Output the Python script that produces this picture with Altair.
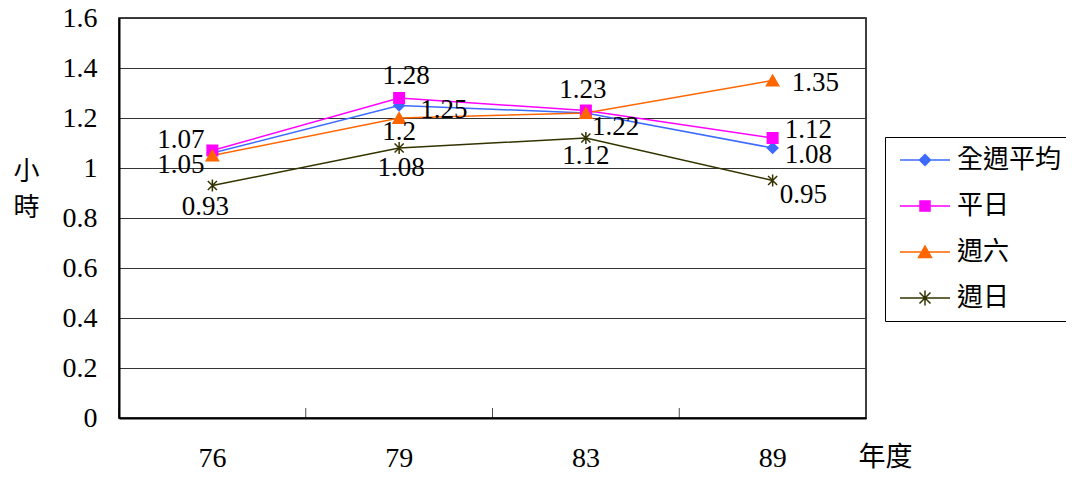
import altair as alt
import pandas as pd

# ---------------- data ----------------
years = ["76", "79", "83", "89"]
series = ["全週平均", "平日", "週六", "週日"]
v_avg = [1.06, 1.25, 1.22, 1.08]
v_weekday = [1.07, 1.28, 1.23, 1.12]
v_sat = [1.05, 1.20, 1.22, 1.35]
v_sun = [0.93, 1.08, 1.12, 0.95]
lab_avg = ["", "1.25", "", "1.08"]
lab_weekday = ["1.07", "1.28", "1.23", "1.12"]
lab_sat = ["1.05", "1.2", "1.22", "1.35"]
lab_sun = ["0.93", "1.08", "1.12", "0.95"]
y_ticks = [0, 0.2, 0.4, 0.6, 0.8, 1.0, 1.2, 1.4, 1.6]

# ---------------- styles ----------------
colors = ["#3d6bff", "#ff00ff", "#ff6600", "#333300"]
ASTER = "M-0.6,-0.6L0.6,0.6M-0.6,0.6L0.6,-0.6M0,-0.8L0,0.8"
plot_shapes = ["diamond", "square", "triangle-up", ASTER]
plot_sizes = [110, 110, 150, 230]
legend_paths = [
    "M-2.5,0H2.5M0,-0.55L0.55,0L0,0.55L-0.55,0Z",
    "M-2.5,0H2.5M-0.5,-0.5H0.5V0.5H-0.5Z",
    "M-2.5,0H2.5M0,-0.6L0.65,0.55L-0.65,0.55Z",
    "M-2.5,0H2.5M-0.55,-0.55L0.55,0.55M-0.55,0.55L0.55,-0.55M0,-0.75L0,0.75",
]
# label placement per series: (align, dx, dy)
label_offsets = [
    [("left", 0, 0), ("left", 21, 4), ("left", 0, 0), ("left", 12, 7)],
    [("right", -8, -11), ("center", 7, -22), ("center", -3, -21), ("left", 12, -8)],
    [("right", -8, 9), ("center", 0, 14), ("left", 6, 14), ("left", 19, 2)],
    [("center", -7, 21), ("center", 2, 20), ("center", 0, 18), ("left", 7, 14)],
]

values = [v_avg, v_weekday, v_sat, v_sun]
labels = [lab_avg, lab_weekday, lab_sat, lab_sun]
rows = []
for si, s in enumerate(series):
    for yi, yr in enumerate(years):
        rows.append({"year": yr, "series": s, "value": values[si][yi],
                     "label": labels[si][yi], "order": si})
df = pd.DataFrame(rows)

SERIF = "Liberation Serif"
CJK = "Noto Sans CJK TC"

xscale = alt.Scale(type="band", paddingInner=0, paddingOuter=0, domain=years)
xaxis = alt.Axis(
    title="年度", titleFont=CJK, titleFontSize=27, titleFontWeight="normal",
    titleColor="#000", titleX=739, titleY=47, titleAlign="left",
    titleBaseline="alphabetic", titleAngle=0,
    labelFont=SERIF, labelFontSize=28, labelColor="#000", labelAngle=0,
    labelBaseline="alphabetic", labelPadding=48, ticks=False, tickSize=0,
    domainColor="#000", domainWidth=2, grid=False,
)
yscale = alt.Scale(domain=[0, 1.6], nice=False, zero=True)
yaxis = alt.Axis(
    title=["小", "時"], titleFont=CJK, titleFontSize=26, titleFontWeight="normal",
    titleColor="#000", titleAngle=0, titleX=-93, titleY=140, titleAlign="center",
    titleBaseline="top", titleLineHeight=36,
    values=y_ticks, format="~g", labelFont=SERIF, labelFontSize=28,
    labelColor="#000", labelPadding=22, ticks=False, tickSize=0,
    domainColor="#000", domainWidth=2, grid=True, gridColor="#333", gridWidth=1,
)

X = alt.X("year:N", scale=xscale, axis=xaxis, sort=years)
Y = alt.Y("value:Q", scale=yscale, axis=yaxis)

legend = alt.Legend(
    title=None, orient="none", legendX=766, legendY=119,
    strokeColor="#000", fillColor="white", padding=10,
    symbolSize=400, symbolOffset=17, labelOffset=19,
    symbolStrokeWidth=1.5, symbolOpacity=1,
    labelFont=CJK, labelFontSize=26, labelColor="#000", rowPadding=20,
)

base = alt.Chart(df)

lines = base.mark_line(strokeWidth=1.5).encode(
    x=X, y=Y,
    color=alt.Color("series:N", scale=alt.Scale(domain=series, range=colors),
                    legend=legend, sort=series),
    order=alt.Order("year:N"),
)

layers = [lines]

# data markers, one layer per series
for si, s in enumerate(series):
    layers.append(
        base.transform_filter(alt.datum.series == s).mark_point(
            filled=True, shape=plot_shapes[si], size=plot_sizes[si],
            fill=colors[si], stroke=colors[si], strokeWidth=1.5, opacity=1,
        ).encode(x=X, y=Y)
    )

# legend carrier: gives the merged legend its fill and "line + marker" shapes;
# its points sit below the y domain and are clipped away
carrier = base.transform_calculate(off="-1").mark_point(
    filled=True, clip=True, strokeWidth=1.5
).encode(
    x=X,
    y=alt.Y("off:Q", scale=yscale, axis=yaxis),
    fill=alt.Fill("series:N", scale=alt.Scale(domain=series, range=colors),
                  legend=legend, sort=series),
    shape=alt.Shape("series:N", scale=alt.Scale(domain=series, range=legend_paths),
                    legend=legend, sort=series),
)
layers.append(carrier)

ticks = alt.Chart(pd.DataFrame({"year": years, "zero": [0] * len(years)})).mark_tick(
    orient="vertical", size=10, yOffset=-5, thickness=1, color="#000"
).encode(
    x=alt.X("year:N", scale=xscale, axis=xaxis, sort=years, bandPosition=0),
    y=alt.Y("zero:Q", scale=yscale, axis=yaxis),
)
layers.append(ticks)

for si, s in enumerate(series):
    for yi, yr in enumerate(years):
        if not labels[si][yi]:
            continue
        align, dx, dy = label_offsets[si][yi]
        t = base.transform_filter(
            (alt.datum.series == s) & (alt.datum.year == yr)
        ).mark_text(
            align=align, baseline="middle", dx=dx, dy=dy,
            font=SERIF, fontSize=27, color="#000",
        ).encode(x=X, y=Y, text="label:N")
        layers.append(t)

chart = alt.layer(*layers).properties(
    width=747, height=400,
    autosize=alt.AutoSizeParams(type="none"),
    padding={"left": 111, "top": 10, "right": 200, "bottom": 54},
    background="white",
).configure_view(stroke="#000", strokeWidth=1.5)

chart.save("out.html", embed_options={"renderer": "svg", "actions": False})
